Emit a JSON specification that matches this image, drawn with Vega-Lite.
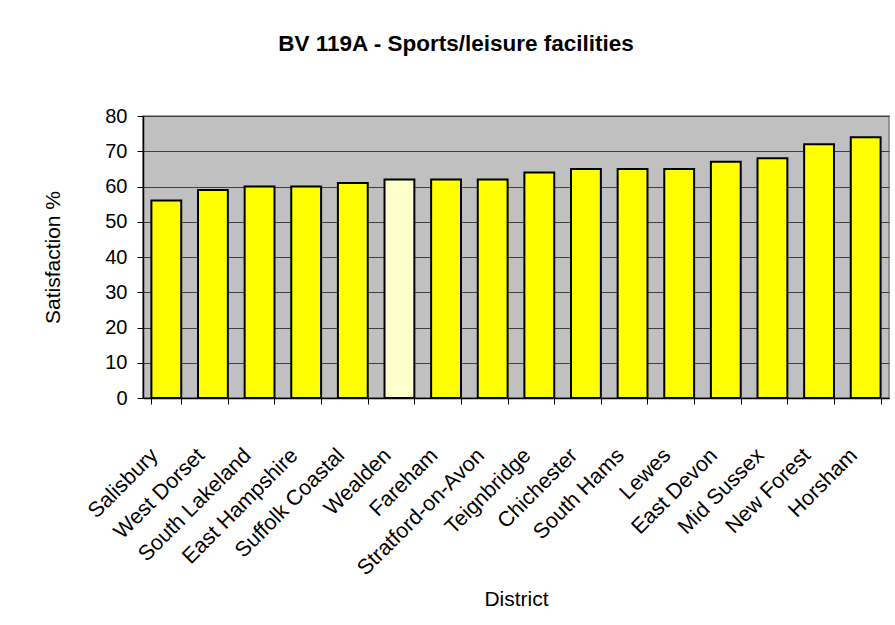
{
  "$schema": "https://vega.github.io/schema/vega-lite/v6.json",
  "width": 746,
  "height": 282,
  "autosize": {"type": "none"},
  "padding": {"left": 143, "top": 116, "right": 6, "bottom": 227},
  "background": "#ffffff",
  "title": {
    "text": "BV 119A - Sports/leisure facilities",
    "font": "Liberation Sans",
    "fontSize": 22.5,
    "fontWeight": "bold",
    "color": "#000000",
    "anchor": "middle",
    "frame": "group",
    "dx": -60,
    "baseline": "alphabetic",
    "offset": 33
  },
  "config": {
    "view": {"fill": "#c0c0c0", "stroke": "#808080", "strokeWidth": 1.5},
    "axis": {
      "labelFont": "Liberation Sans",
      "titleFont": "Liberation Sans",
      "labelColor": "#000000",
      "titleColor": "#000000",
      "titleFontWeight": "normal"
    }
  },
  "data": {
    "values": [
      {"District": "Salisbury", "Satisfaction": 56},
      {"District": "West Dorset", "Satisfaction": 59},
      {"District": "South Lakeland", "Satisfaction": 60},
      {"District": "East Hampshire", "Satisfaction": 60},
      {"District": "Suffolk Coastal", "Satisfaction": 61},
      {"District": "Wealden", "Satisfaction": 62},
      {"District": "Fareham", "Satisfaction": 62},
      {"District": "Stratford-on-Avon", "Satisfaction": 62},
      {"District": "Teignbridge", "Satisfaction": 64},
      {"District": "Chichester", "Satisfaction": 65},
      {"District": "South Hams", "Satisfaction": 65},
      {"District": "Lewes", "Satisfaction": 65},
      {"District": "East Devon", "Satisfaction": 67},
      {"District": "Mid Sussex", "Satisfaction": 68},
      {"District": "New Forest", "Satisfaction": 72},
      {"District": "Horsham", "Satisfaction": 74}
    ]
  },
  "mark": {"type": "bar", "stroke": "#000000", "strokeWidth": 2},
  "encoding": {
    "x": {
      "field": "District",
      "type": "nominal",
      "sort": null,
      "scale": {"paddingInner": 0.36, "paddingOuter": 0.18},
      "axis": {
        "title": "District",
        "titleFontSize": 21,
        "titleY": 207,
        "titleBaseline": "alphabetic",
        "labelAngle": -45,
        "labelAlign": "right",
        "labelBaseline": "middle",
        "labelFontSize": 21.5,
        "labelOffset": -12,
        "labelPadding": 48,
        "tickBand": "extent",
        "tickSize": 6,
        "tickColor": "#000000",
        "domainColor": "#000000",
        "domainWidth": 1.5,
        "labelOverlap": false
      }
    },
    "y": {
      "field": "Satisfaction",
      "type": "quantitative",
      "scale": {"domain": [0, 80], "nice": false},
      "axis": {
        "title": "Satisfaction %",
        "titleFontSize": 21,
        "titlePadding": 41,
        "values": [0, 10, 20, 30, 40, 50, 60, 70, 80],
        "labelFontSize": 20,
        "labelPadding": 10,
        "tickSize": 6,
        "tickColor": "#000000",
        "domainColor": "#000000",
        "domainWidth": 1.5,
        "grid": true,
        "gridColor": "#404040",
        "gridWidth": 1
      }
    },
    "color": {
      "condition": {"test": "datum.District === 'Wealden'", "value": "#ffffcc"},
      "value": "#ffff00"
    }
  }
}
